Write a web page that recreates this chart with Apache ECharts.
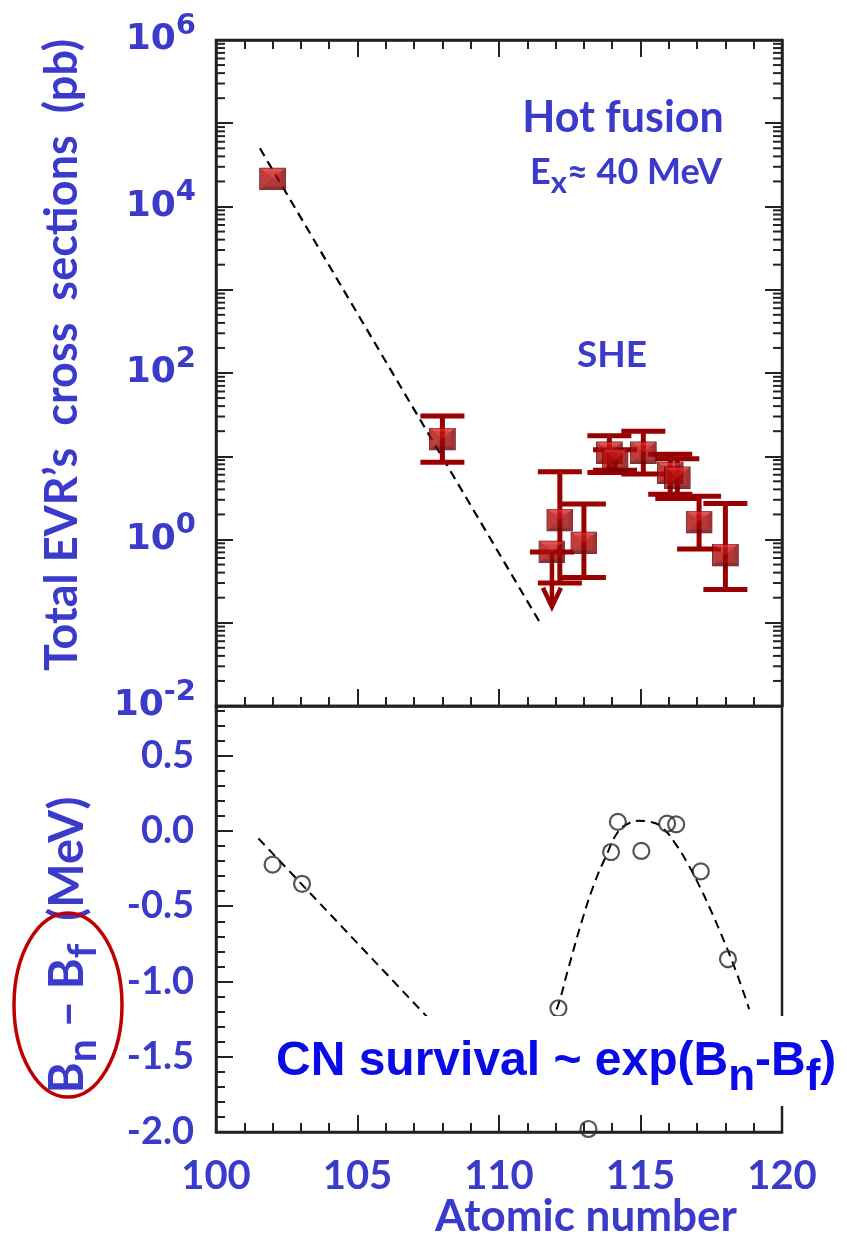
<!DOCTYPE html>
<html><head><meta charset="utf-8">
<script src="https://cdn.jsdelivr.net/npm/echarts@6/dist/echarts.min.js"></script>
<style>html,body{margin:0;padding:0;background:#fff}#c{width:847px;height:1244px}</style>
</head><body><div id="c"></div>
<script>
// ---------- data ----------
const xTickLabels = [100, 105, 110, 115, 120];
const xMin = 100, xMax = 120;
// top panel: total EVR cross sections (pb)
const evrZ     = [102,    108,  112.15, 113,  113.9, 114.1, 115.1, 116.05, 116.3, 117.07, 118];
const evrSigma = [2.14e4, 16.1, 1.71,   0.91, 11,    9.0,   11,    6.3,    5.5,   1.62,   0.65];
const evrLow   = [null,   8.5,  0.30,   0.35, 6.4,   6.8,   6.1,   3.5,    3.1,   0.77,   0.25];
const evrHigh  = [null,   30.5, 6.5,    2.67, 17.6,  12,    20,    10.6,   9.3,   3.3,    2.7];
// upper limit point
const limZ = [111.87];
const limSigma = [0.71];
const limArrowTip = [0.156];
// dashed trend (top)
const fitTopZ = [101.55, 111.45];
const fitTopSigma = [5.0e4, 0.1];
// bottom panel: Bn - Bf (MeV)
const bnbfZ = [102.0, 103.04, 112.1, 113.16, 113.96, 114.2, 115.03, 115.94, 116.26, 117.13, 118.09];
const bnbfV = [-0.224, -0.351, -1.178, -1.98, -0.14, 0.06, -0.133, 0.049, 0.044, -0.269, -0.851];
// dashed lines (bottom)
const fitLeftZ = [101.5, 110.4];
const fitLeftV = [-0.05, -1.82];
const fitRightZ = [111.84, 112.10, 112.46, 112.97, 113.41, 113.77, 114.20, 114.57, 114.93, 115.36, 115.80, 116.23, 116.67, 117.10, 117.54, 117.97, 118.41, 118.84];
const fitRightV = [-1.278, -1.151, -0.907, -0.573, -0.329, -0.173, -0.007, 0.049, 0.067, 0.060, 0.016, -0.084, -0.218, -0.373, -0.551, -0.74, -0.951, -1.184];
// log-axis minor tick mantissas and decades
const minorMantissas = [2, 3, 4, 5, 6, 7, 8, 9];
const decades = [-2, -1, 0, 1, 2, 3, 4, 5];

// ---------- styling ----------
const BLUE = '#3a3acb';
const BRIGHT = '#0a0ae6';
const RED = '#990000';
const AX = '#222';

const squareSvg = 'data:image/svg+xml;charset=utf-8,' + encodeURIComponent(
 '<svg xmlns="http://www.w3.org/2000/svg" width="27" height="23" viewBox="0 0 27 23">' +
 '<rect x="0" y="0" width="27" height="23" fill="#4a0000"/>' +
 '<polygon points="1,1 26,1 13.5,11.5" fill="#e02828"/>' +
 '<polygon points="1,1 1,22 13.5,11.5" fill="#b40c0c"/>' +
 '<polygon points="26,1 26,22 13.5,11.5" fill="#920202"/>' +
 '<polygon points="1,22 26,22 13.5,11.5" fill="#760000"/>' +
 '<rect x="5" y="4" width="17" height="15" fill="#b00e0e" opacity="0.6"/>' +
 '</svg>');

const errData = [];
evrZ.forEach((z, i) => { if (evrLow[i] != null) errData.push([z, evrSigma[i], evrLow[i], evrHigh[i]]); });
const limData = limZ.map((z, i) => [z, limSigma[i], limArrowTip[i]]);
const minorTickData = [];
decades.forEach(d => minorMantissas.forEach(m => minorTickData.push([xMin, m * Math.pow(10, d)])));

const pairs = (a, b) => a.map((v, i) => [v, b[i]]);

function errRender(params, api) {
  const x = api.value(0), lo = api.value(2), hi = api.value(3);
  const a = api.coord([x, hi]), b = api.coord([x, lo]);
  const st = { stroke: RED, lineWidth: 5 };
  const hw = 22;
  return { type: 'group', children: [
    { type: 'line', shape: { x1: a[0], y1: a[1], x2: b[0], y2: b[1] }, style: st },
    { type: 'line', shape: { x1: a[0] - hw, y1: a[1], x2: a[0] + hw, y2: a[1] }, style: st },
    { type: 'line', shape: { x1: b[0] - hw, y1: b[1], x2: b[0] + hw, y2: b[1] }, style: st }
  ]};
}
function limRender(params, api) {
  const x = api.value(0), v = api.value(1), tip = api.value(2);
  const a = api.coord([x, v]), b = api.coord([x, tip]);
  const st = { stroke: RED, lineWidth: 4.5 };
  return { type: 'group', children: [
    { type: 'line', shape: { x1: a[0], y1: a[1], x2: b[0], y2: b[1] }, style: st },
    { type: 'line', shape: { x1: a[0] - 22, y1: a[1], x2: a[0] + 22, y2: a[1] }, style: { stroke: RED, lineWidth: 5 } },
    { type: 'polyline', shape: { points: [[b[0] - 9, b[1] - 19], [b[0], b[1]], [b[0] + 9, b[1] - 19]] }, style: { stroke: RED, lineWidth: 4.5, fill: null } }
  ]};
}
function minorTickRender(params, api) {
  const v = api.value(1);
  const l = api.coord([xMin, v]), r = api.coord([xMax, v]);
  const st = { stroke: AX, lineWidth: 2 };
  return { type: 'group', children: [
    { type: 'line', shape: { x1: l[0], y1: l[1], x2: l[0] + 9, y2: l[1] }, style: st },
    { type: 'line', shape: { x1: r[0], y1: r[1], x2: r[0] - 9, y2: r[1] }, style: st }
  ]};
}

const tickStyle = { color: AX, width: 2 };
const chart = echarts.init(document.getElementById('c'), null, { renderer: 'canvas' });
const xBase = {
  type: 'value', min: xMin, max: xMax, interval: 5,
  axisLine: { show: true, onZero: false, lineStyle: { color: AX, width: 2.5 } },
  axisTick: { show: true, inside: true, length: 17, lineStyle: tickStyle },
  minorTick: { show: true, splitNumber: 5, length: 9, lineStyle: tickStyle },
  splitLine: { show: false }, axisLabel: { show: false }
};
const logBase = {
  type: 'log', logBase: 10, min: 0.01, max: 1e6, interval: 1,
  axisLine: { show: true, onZero: false, lineStyle: { color: AX, width: 2.5 } },
  axisTick: { show: true, inside: true, length: 17, lineStyle: tickStyle },
  minorTick: { show: false },
  splitLine: { show: false }, axisLabel: { show: false }
};

chart.setOption({
  backgroundColor: '#fff',
  animation: false,
  grid: [
    { left: 216, right: 65, top: 40, height: 666, show: true, borderColor: AX, borderWidth: 2.5, backgroundColor: 'transparent' },
    { left: 216, right: 65, top: 706, height: 426, show: true, borderColor: AX, borderWidth: 2.5, backgroundColor: 'transparent' }
  ],
  xAxis: [
    Object.assign({}, xBase, { gridIndex: 0, position: 'bottom' }),
    Object.assign({}, xBase, { gridIndex: 0, position: 'top' }),
    Object.assign({}, xBase, { gridIndex: 1, position: 'bottom',
      axisLabel: { show: true, margin: 24, color: BLUE, fontFamily: 'Lato', fontWeight: 'bold', fontSize: 40,
        formatter: v => (xTickLabels.indexOf(v) >= 0 ? String(v) : '') } })
  ],
  yAxis: [
    Object.assign({}, logBase, { gridIndex: 0, position: 'left',
      axisLabel: { show: true, margin: 20,
        formatter: v => { const e = Math.round(Math.log10(v)); return (e % 2 === 0) ? '{b|10}{s|' + e + '}' : ''; },
        rich: {
          b: { fontFamily: 'DejaVu Sans', fontWeight: 'bold', fontSize: 36, color: BLUE },
          s: { fontFamily: 'DejaVu Sans', fontWeight: 'bold', fontSize: 29, color: BLUE, padding: [0, 0, 28, 0] }
        } } }),
    Object.assign({}, logBase, { gridIndex: 0, position: 'right' }),
    { type: 'value', gridIndex: 1, min: -2.0, max: 0.83, interval: 0.5, position: 'left',
      axisLine: { show: true, onZero: false, lineStyle: { color: AX, width: 2.5 } },
      axisTick: { show: true, inside: true, length: 17, lineStyle: tickStyle },
      minorTick: { show: true, splitNumber: 5, length: 9, lineStyle: tickStyle },
      splitLine: { show: false },
      axisLabel: { show: true, margin: 22, showMaxLabel: false, color: BLUE, fontFamily: 'Lato', fontWeight: 'bold', fontSize: 38,
        formatter: v => (Math.abs(v * 2 - Math.round(v * 2)) < 1e-6 ? v.toFixed(1) : '') } }
  ],
  series: [
    { type: 'custom', xAxisIndex: 0, yAxisIndex: 0, data: minorTickData, renderItem: minorTickRender, encode: { x: 0, y: 1 }, z: 1, silent: true },
    { type: 'line', xAxisIndex: 0, yAxisIndex: 0, data: pairs(fitTopZ, fitTopSigma), symbol: 'none',
      lineStyle: { color: '#000', width: 2.2, type: [9, 6] }, z: 2 },
    { type: 'custom', xAxisIndex: 0, yAxisIndex: 0, data: errData, renderItem: errRender, encode: { x: 0, y: 1 }, z: 3 },
    { type: 'custom', xAxisIndex: 0, yAxisIndex: 0, data: limData, renderItem: limRender, encode: { x: 0, y: 1 }, z: 3 },
    { type: 'scatter', xAxisIndex: 0, yAxisIndex: 0, data: pairs(evrZ, evrSigma).concat(pairs(limZ, limSigma)),
      symbol: 'image://' + squareSvg, symbolSize: [27, 23], z: 4 },
    { type: 'line', xAxisIndex: 2, yAxisIndex: 2, data: pairs(fitLeftZ, fitLeftV), symbol: 'none',
      lineStyle: { color: '#000', width: 2, type: [9, 6] }, z: 2 },
    { type: 'line', xAxisIndex: 2, yAxisIndex: 2, data: pairs(fitRightZ, fitRightV), symbol: 'none', smooth: true,
      lineStyle: { color: '#000', width: 2, type: [9, 6] }, z: 2 },
    { type: 'scatter', xAxisIndex: 2, yAxisIndex: 2, data: pairs(bnbfZ, bnbfV), symbol: 'circle', symbolSize: 16,
      itemStyle: { color: 'rgba(255,255,255,0)', borderColor: '#2a2a2a', borderWidth: 2.2 }, z: 4, clip: false }
  ],
  graphic: [
    { type: 'text', x: 62, y: 355, rotation: Math.PI / 2, z: 50,
      style: { text: 'Total EVR\u2019s  cross  sections  (pb)', fontFamily: 'Lato', fontWeight: 'bold', fontSize: 45,
        fill: BLUE, align: 'center', verticalAlign: 'middle' } },
    { type: 'text', x: 68, y: 945, rotation: Math.PI / 2, z: 50,
      style: { text: '{m|B}{s|n}{m| \u2013 B}{s|f}{m|  (MeV)}', align: 'center', verticalAlign: 'middle',
        rich: {
          m: { fontFamily: 'Lato', fontWeight: 'bold', fontSize: 47, fill: BLUE },
          s: { fontFamily: 'Lato', fontWeight: 'bold', fontSize: 41, fill: BLUE, padding: [30, 0, 0, 0] }
        } } },
    { type: 'ellipse', z: 51, shape: { cx: 68, cy: 1005, rx: 54, ry: 92 },
      style: { fill: null, stroke: '#c00000', lineWidth: 3.5 } },
    { type: 'text', x: 623, y: 118, z: 50,
      style: { text: 'Hot fusion', fontFamily: 'Lato', fontWeight: 'bold', fontSize: 43, fill: BLUE, align: 'center', verticalAlign: 'middle' } },
    { type: 'text', x: 626, y: 172, z: 50,
      style: { text: '{m|E}{s|x}{m|\u2248 40 MeV}', align: 'center', verticalAlign: 'middle',
        rich: {
          m: { fontFamily: 'Lato', fontWeight: 'bold', fontSize: 36, fill: BLUE },
          s: { fontFamily: 'Lato', fontWeight: 'bold', fontSize: 31, fill: BLUE, padding: [22, 0, 0, 0] }
        } } },
    { type: 'text', x: 612, y: 355, z: 50,
      style: { text: 'SHE', fontFamily: 'Lato', fontWeight: 'bold', fontSize: 37, fill: BLUE, align: 'center', verticalAlign: 'middle' } },
    { type: 'text', x: 270, y: 1061, z: 60,
      style: { text: '{m|CN survival ~ exp(B}{s|n}{m|-B}{s|f}{m|)}', align: 'left', verticalAlign: 'middle',
        backgroundColor: '#fff', padding: [8, 6, 6, 6],
        rich: {
          m: { fontFamily: 'Liberation Sans', fontWeight: 'bold', fontSize: 48, fill: BRIGHT },
          s: { fontFamily: 'Liberation Sans', fontWeight: 'bold', fontSize: 44, fill: BRIGHT, padding: [32, 0, 0, 0] }
        } } },
    { type: 'text', x: 586, y: 1217, z: 50,
      style: { text: 'Atomic number', fontFamily: 'Lato', fontWeight: 'bold', fontSize: 44, fill: BLUE, align: 'center', verticalAlign: 'middle' } }
  ]
});
</script>
</body></html>
